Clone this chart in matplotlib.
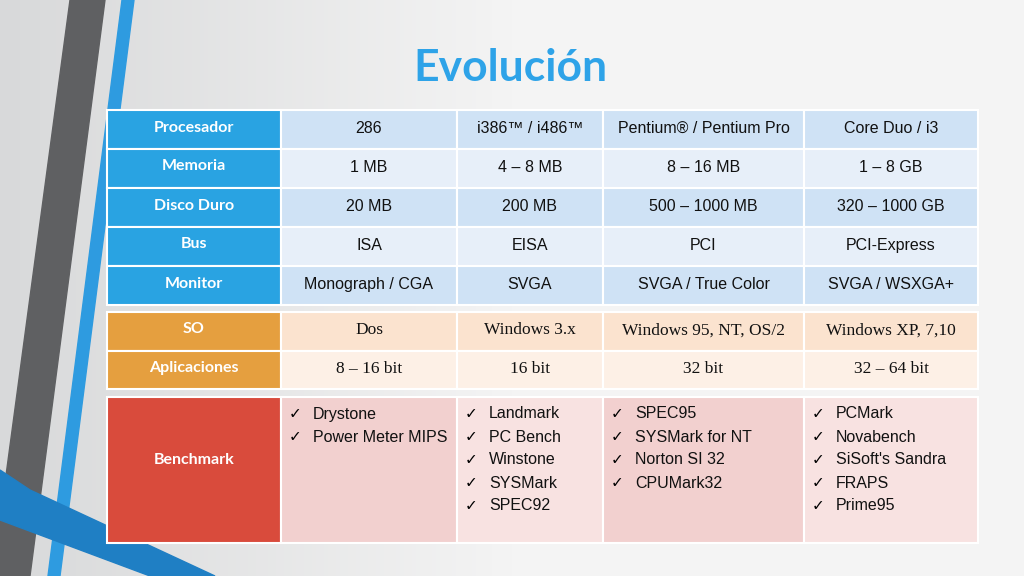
import matplotlib.pyplot as plt
from matplotlib.patches import Rectangle, Polygon
import numpy as np

title = "Evolución"
col_edges = [107, 281, 457, 603, 804, 978]

hw_labels = ["Procesador", "Memoria", "Disco Duro", "Bus", "Monitor"]
hw_values = [
    ["286", "i386™ / i486™", "Pentium® / Pentium Pro", "Core Duo / i3"],
    ["1 MB", "4 – 8 MB", "8 – 16 MB", "1 – 8 GB"],
    ["20 MB", "200 MB", "500 – 1000 MB", "320 – 1000 GB"],
    ["ISA", "EISA", "PCI", "PCI-Express"],
    ["Monograph / CGA", "SVGA", "SVGA / True Color", "SVGA / WSXGA+"],
]
sw_labels = ["SO", "Aplicaciones"]
sw_values = [
    ["Dos", "Windows 3.x", "Windows 95, NT, OS/2", "Windows XP, 7,10"],
    ["8 – 16 bit", "16 bit", "32 bit", "32 – 64 bit"],
]
bench_label = "Benchmark"
bench_values = [
    ["Drystone", "Power Meter MIPS"],
    ["Landmark", "PC Bench", "Winstone", "SYSMark", "SPEC92"],
    ["SPEC95", "SYSMark for NT", "Norton SI 32", "CPUMark32"],
    ["PCMark", "Novabench", "SiSoft's Sandra", "FRAPS", "Prime95"],
]

fig = plt.figure(figsize=(10.24, 5.76), dpi=100)
ax = fig.add_axes([0, 0, 1, 1])
ax.set_xlim(0, 1024)
ax.set_ylim(576, 0)
ax.axis("off")

# background gradient
grad = np.linspace(0, 1, 256).reshape(1, -1)
ax.imshow(grad, extent=[0, 1024, 576, 0], cmap=plt.matplotlib.colors.LinearSegmentedColormap.from_list(
    "bg", ["#d8d9da", "#f4f4f4", "#f4f4f4"]), aspect="auto", zorder=0)

# decorative stripes
ax.add_patch(Polygon([(70, 0), (105, 0), (30, 576), (0, 576), (0, 520)], color="#5f6062", zorder=1))
ax.add_patch(Polygon([(122, 0), (134, 0), (60, 576), (48, 576)], color="#2e9be0", zorder=1))
ax.add_patch(Polygon([(0, 470), (30, 490), (215, 576), (150, 576), (0, 520)], color="#1f7fc4", zorder=1))

ax.text(510, 68, title, ha="center", va="center", fontsize=32, fontweight="bold",
        color="#2ea3e8", family="Lato", zorder=3)

hfont = dict(family="Lato", fontweight="bold", color="white", fontsize=11.5)
cfont = dict(family="Liberation Sans", fontsize=11.5, color="#111111")


def draw_table(labels, values, y0, rh, head, bands, font):
    for r, (lab, row) in enumerate(zip(labels, values)):
        y = y0 + r * rh
        ax.add_patch(Rectangle((col_edges[0], y), col_edges[1] - col_edges[0], rh,
                               fc=head, ec="white", lw=1.5, zorder=2))
        ax.text((col_edges[0] + col_edges[1]) / 2, y + rh / 2 - 2, lab, ha="center", va="center", zorder=3, **hfont)
        for c, val in enumerate(row):
            x0, x1 = col_edges[c + 1], col_edges[c + 2]
            ax.add_patch(Rectangle((x0, y), x1 - x0, rh, fc=bands[r % 2], ec="white", lw=1.5, zorder=2))
            ax.text((x0 + x1) / 2, y + rh / 2 - 1, val, ha="center", va="center", zorder=3, **font)


draw_table(hw_labels, hw_values, 110, 39, "#29a3e2", ["#cfe2f5", "#e7eff9"], cfont)
draw_table(sw_labels, sw_values, 312, 38.5, "#e59f3f", ["#fbe3cf", "#fdf0e6"],
           dict(family="Liberation Serif", fontsize=12.5, color="#111111"))

# benchmark table
y0, y1 = 397, 543
ax.add_patch(Rectangle((col_edges[0], y0), col_edges[1] - col_edges[0], y1 - y0,
                       fc="#d94b3c", ec="white", lw=1.5, zorder=2))
ax.text((col_edges[0] + col_edges[1]) / 2, 460, bench_label, ha="center", va="center", zorder=3, **hfont)
for c, items in enumerate(bench_values):
    x0, x1 = col_edges[c + 1], col_edges[c + 2]
    ax.add_patch(Rectangle((x0, y0), x1 - x0, y1 - y0, fc=["#f2d0cf", "#f8e2e1"][c % 2],
                           ec="white", lw=1.5, zorder=2))
    for i, it in enumerate(items):
        yy = 414 + i * 23
        ax.text(x0 + 14, yy, "✓", ha="center", va="center", fontsize=11, family="DejaVu Sans", zorder=3)
        ax.text(x0 + 32, yy, it, ha="left", va="center", zorder=3, **cfont)

fig.savefig("out.png", dpi=100)
